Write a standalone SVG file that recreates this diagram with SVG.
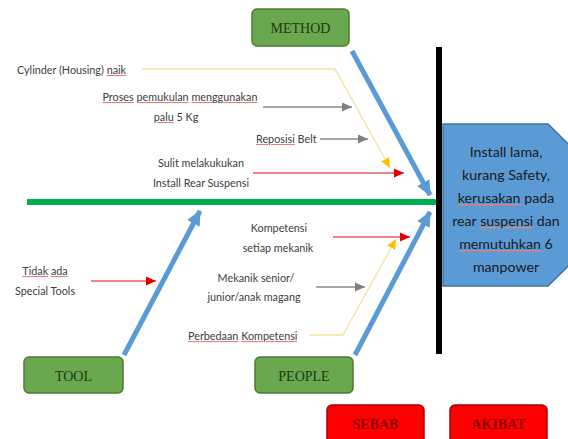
<svg xmlns="http://www.w3.org/2000/svg" width="568" height="439" viewBox="0 0 568 439">
<defs>
<style>
.lbl{font-family:Lato,"Liberation Sans",sans-serif;font-size:10.8px;fill:#404040}
.sp{text-decoration-line:underline;text-decoration-style:wavy;fill:#e08080}
.sp tspan{fill:#404040}
.btxt .sp tspan{fill:#1a1a1a}
.gbox{fill:#6aa84f;stroke:#4e7a33;stroke-width:1.5}
.gtxt{font-family:"Liberation Serif",serif;font-size:14px;fill:#1e3a0e;text-anchor:middle}
.rbox{fill:#ff0000;stroke:#b00000;stroke-width:1.5}
.rtxt{font-family:"Liberation Serif",serif;font-size:14px;fill:#8a0000;text-anchor:middle;font-weight:bold}
.blue{stroke:#5b9bd5;stroke-width:5;fill:none}
.gray{stroke:#8a8a8a;stroke-width:1.3;fill:none}
.red{stroke:#e06060;stroke-width:1.3;fill:none}
.yel{stroke:#f2e3a0;stroke-width:1.3;fill:none}
.btxt{font-family:Lato,"Liberation Sans",sans-serif;font-size:14.2px;fill:#1a1a1a;text-anchor:middle}
</style>
<marker id="ab" markerUnits="userSpaceOnUse" markerWidth="16" markerHeight="16" refX="14" refY="8" orient="auto"><path d="M0,1 L15,8 L0,15 z" fill="#5b9bd5"/></marker>
<marker id="ag" markerUnits="userSpaceOnUse" markerWidth="12" markerHeight="12" refX="10" refY="6" orient="auto"><path d="M0,1.5 L10,6 L0,10.5 z" fill="#7f7f7f"/></marker>
<marker id="ar" markerUnits="userSpaceOnUse" markerWidth="12" markerHeight="12" refX="10" refY="6" orient="auto"><path d="M0,1.5 L10,6 L0,10.5 z" fill="#e00000"/></marker>
<marker id="ay" markerUnits="userSpaceOnUse" markerWidth="12" markerHeight="12" refX="10" refY="6" orient="auto"><path d="M0,1.5 L10,6 L0,10.5 z" fill="#ffc000"/></marker>
</defs>
<rect width="568" height="439" fill="#ffffff"/>

<g id="connectors">
<line x1="27" y1="202" x2="437" y2="202" stroke="#00b050" stroke-width="6"/>
<line x1="439" y1="47" x2="439" y2="354" stroke="#000" stroke-width="6"/>
<line class="blue" x1="352" y1="51" x2="430" y2="195" marker-end="url(#ab)"/>
<line class="blue" x1="124" y1="355" x2="200" y2="211" marker-end="url(#ab)"/>
<line class="blue" x1="355" y1="355" x2="430" y2="212" marker-end="url(#ab)"/>
<polyline class="yel" points="142,69 335,69 390,168" marker-end="url(#ay)"/>
<line class="gray" x1="263" y1="107" x2="352" y2="107" marker-end="url(#ag)"/>
<line class="gray" x1="320" y1="139" x2="368" y2="139" marker-end="url(#ag)"/>
<line class="red" x1="253" y1="173" x2="404" y2="173" marker-end="url(#ar)"/>
<line class="red" x1="91" y1="281" x2="156" y2="281" marker-end="url(#ar)"/>
<line class="red" x1="333" y1="237" x2="410" y2="237" marker-end="url(#ar)"/>
<line class="gray" x1="316" y1="287" x2="365" y2="287" marker-end="url(#ag)"/>
<polyline class="yel" points="309,335 343,335 396,239" marker-end="url(#ay)"/>
</g>

<g id="method"><rect class="gbox" x="252" y="9" width="97" height="37" rx="5"/><text class="gtxt" x="300.5" y="33">METHOD</text></g>
<g id="tool"><rect class="gbox" x="24" y="357" width="99" height="36" rx="5"/><text class="gtxt" x="73.5" y="381">TOOL</text></g>
<g id="people"><rect class="gbox" x="255" y="357" width="98" height="36" rx="5"/><text class="gtxt" x="304" y="381">PEOPLE</text></g>
<g id="sebab"><rect class="rbox" x="327" y="405" width="97" height="40" rx="5"/><text class="rtxt" x="375.5" y="429">SEBAB</text></g>
<g id="akibat"><rect class="rbox" x="450" y="405" width="97" height="40" rx="5"/><text class="rtxt" x="498.5" y="429">AKIBAT</text></g>

<g id="effect">
<polygon points="443,124 548,124 630,205 548,286 443,286" fill="#5b9bd5" stroke="#41719c" stroke-width="1.5"/>
<text class="btxt" x="506" y="157">Install lama,</text>
<text class="btxt" x="506" y="180">kurang Safety,</text>
<text class="btxt" x="506" y="203"><tspan class="sp"><tspan>kerusakan</tspan></tspan> pada</text>
<text class="btxt" x="506" y="226">rear <tspan class="sp"><tspan>suspensi</tspan></tspan> dan</text>
<text class="btxt" x="506" y="249"><tspan class="sp"><tspan>memutuhkan</tspan></tspan> 6</text>
<text class="btxt" x="506" y="272">manpower</text>
</g>

<g id="cause-cylinder"><text class="lbl" x="17" y="74">Cylinder (Housing) <tspan class="sp"><tspan>naik</tspan></tspan></text></g>
<g id="cause-proses"><text class="lbl" text-anchor="middle" x="180" y="101"><tspan class="sp"><tspan>Proses</tspan></tspan> <tspan class="sp"><tspan>pemukulan</tspan></tspan> <tspan class="sp"><tspan>menggunakan</tspan></tspan></text><text class="lbl" text-anchor="middle" x="176" y="121"><tspan class="sp"><tspan>palu</tspan></tspan> 5 Kg</text></g>
<g id="cause-reposisi"><text class="lbl" x="256" y="143"><tspan class="sp"><tspan>Reposisi</tspan></tspan> Belt</text></g>
<g id="cause-sulit"><text class="lbl" text-anchor="middle" x="201" y="167">Sulit melakukukan</text><text class="lbl" text-anchor="middle" x="201" y="187">Install Rear Suspensi</text></g>
<g id="cause-tidak"><text class="lbl" text-anchor="middle" x="45" y="275"><tspan class="sp"><tspan>Tidak</tspan></tspan> <tspan class="sp"><tspan>ada</tspan></tspan></text><text class="lbl" text-anchor="middle" x="45" y="295">Special Tools</text></g>
<g id="cause-kompetensi"><text class="lbl" text-anchor="middle" x="279" y="232">Kompetensi</text><text class="lbl" text-anchor="middle" x="278" y="252">setiap mekanik</text></g>
<g id="cause-mekanik"><text class="lbl" text-anchor="middle" x="256" y="282">Mekanik senior/</text><text class="lbl" text-anchor="middle" x="254" y="301">junior/anak magang</text></g>
<g id="cause-perbedaan"><text class="lbl" x="188" y="340"><tspan class="sp"><tspan>Perbedaan</tspan></tspan> <tspan class="sp"><tspan>Kompetensi</tspan></tspan></text></g>
</svg>
